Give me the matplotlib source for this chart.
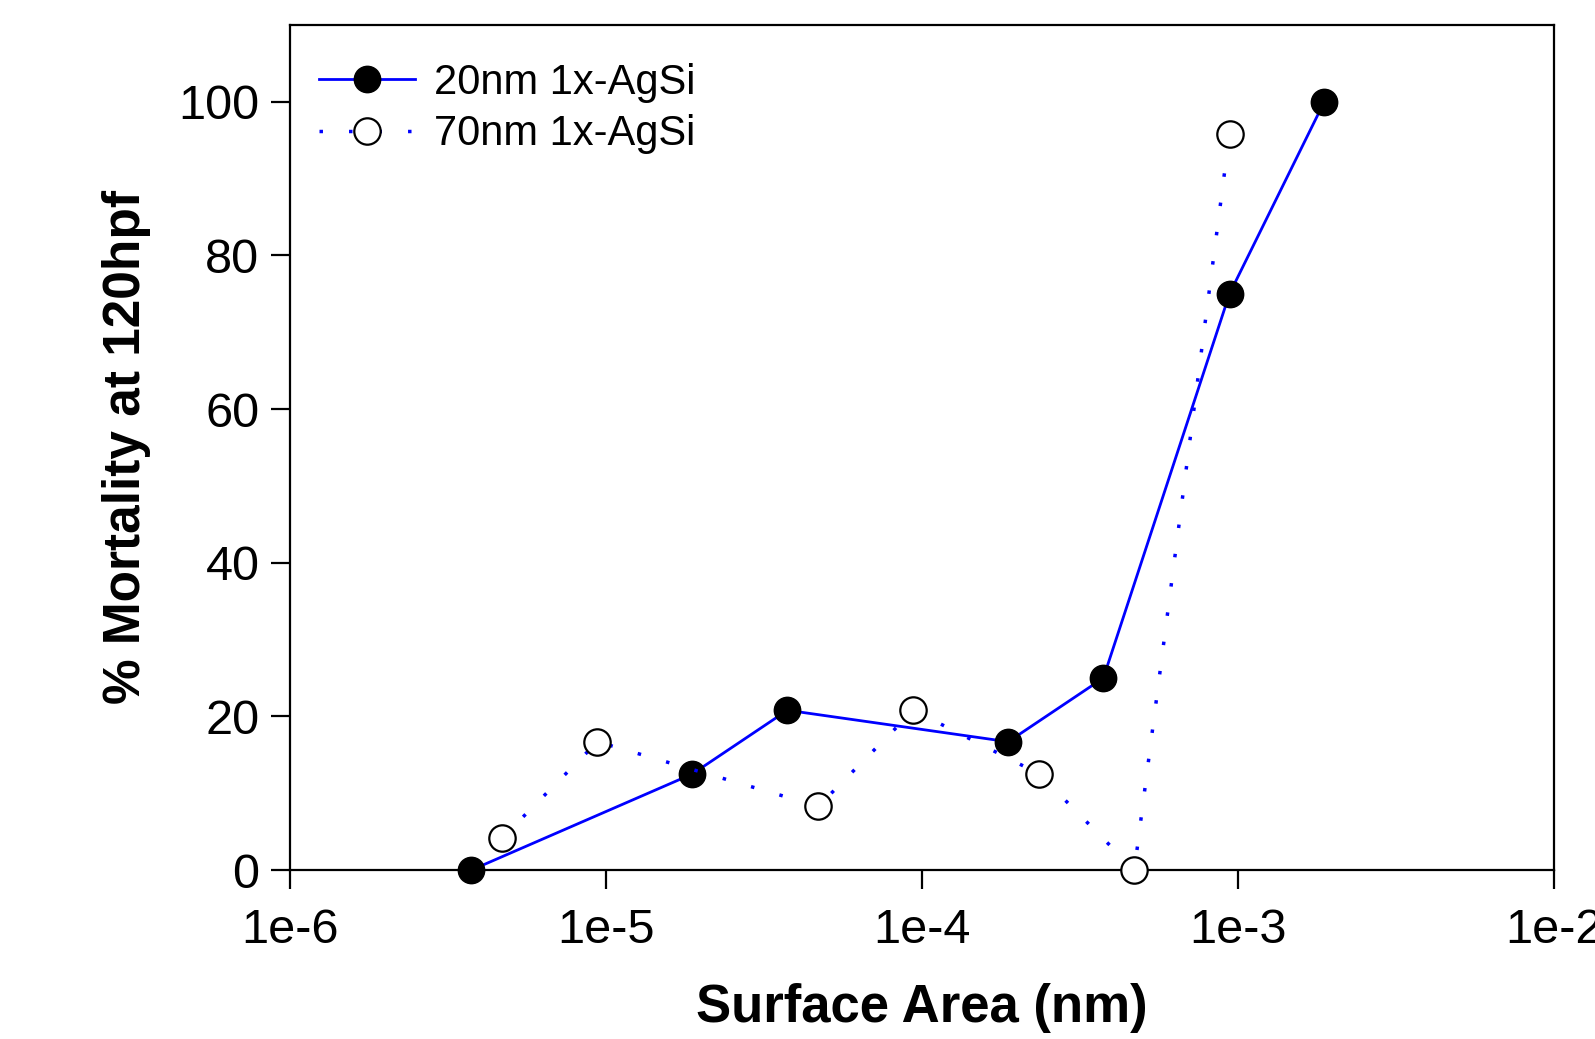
import matplotlib
matplotlib.use("Agg")
import matplotlib.pyplot as plt
from matplotlib.ticker import FixedLocator, FixedFormatter, NullLocator

plt.rcParams['font.family'] = ['Liberation Sans', 'DejaVu Sans']

x20 = [3.75e-6, 1.875e-5, 3.75e-5, 1.875e-4, 3.75e-4, 9.4e-4, 1.875e-3]
y20 = [0, 12.5, 20.8, 16.7, 25.0, 75.0, 100.0]
x70 = [4.7e-6, 9.4e-6, 4.7e-5, 9.4e-5, 2.35e-4, 4.7e-4, 9.4e-4]
y70 = [4.2, 16.7, 8.3, 20.8, 12.5, 0, 95.8]

xticks = [1e-6, 1e-5, 1e-4, 1e-3, 1e-2]
xticklabels = ['1e-6', '1e-5', '1e-4', '1e-3', '1e-2']
yticks = [0, 20, 40, 60, 80, 100]

fig = plt.figure(figsize=(15.95, 10.39), dpi=100)
ax = fig.add_axes([0.1818, 0.1626, 0.7925, 0.8134])

ax.plot(x20, y20, color='#0000ff', lw=2.0, marker='o', ms=19,
        mfc='black', mec='black', label='20nm 1x-AgSi', clip_on=False, zorder=3)
ax.plot(x70, y70, color='#0000ff', lw=2.5, ls=(0, (1, 7.5)), marker='o', ms=19,
        mfc='white', mec='black', mew=1.6, label='70nm 1x-AgSi', clip_on=False, zorder=3)

ax.set_xscale('log')
ax.set_xlim(1e-6, 1e-2)
ax.set_ylim(0, 110)
ax.xaxis.set_major_locator(FixedLocator(xticks))
ax.xaxis.set_major_formatter(FixedFormatter(xticklabels))
ax.xaxis.set_minor_locator(NullLocator())
ax.set_yticks(yticks)

for s in ax.spines.values():
    s.set_linewidth(1.6)
ax.tick_params(axis='both', direction='out', length=14, width=1.6, labelsize=35, pad=8)
ax.tick_params(axis='x', pad=13)

ax.set_xlabel('Surface Area (nm)', fontsize=38, fontweight='bold', labelpad=22)
ax.set_ylabel('% Mortality at 120hpf', fontsize=37, fontweight='bold', labelpad=20)

leg = ax.legend(loc='upper left', frameon=False, fontsize=30, handlelength=2.3,
                borderaxespad=0.3, handletextpad=0.45, labelspacing=0.28,
                bbox_to_anchor=(0.0, 0.99))

fig.savefig('out.png', dpi=100)
